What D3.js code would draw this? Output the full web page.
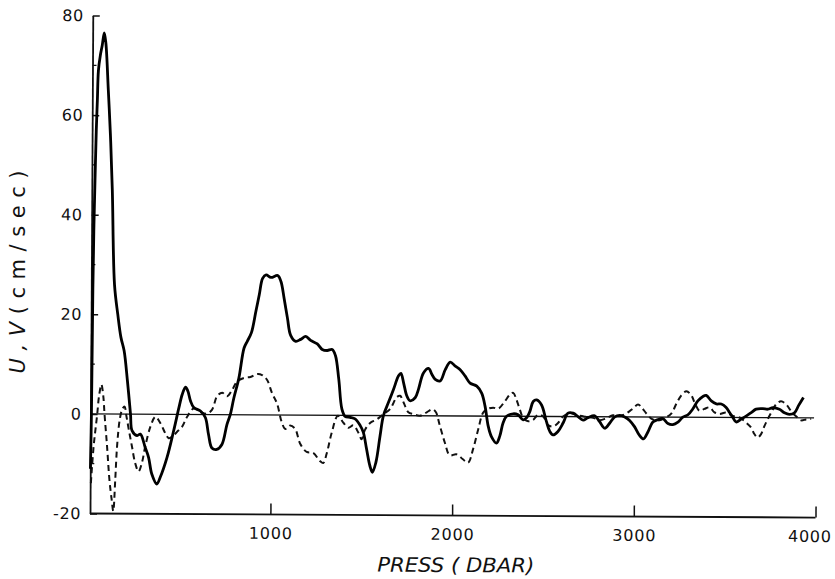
<!DOCTYPE html>
<html>
<head>
<meta charset="utf-8">
<script src="https://cdn.jsdelivr.net/npm/d3@7/dist/d3.min.js"></script>
<style>
  html, body { margin: 0; padding: 0; background: #fff; }
  svg { display: block; }
  text { font-family: "DejaVu Sans", Verdana, sans-serif; fill: #111; }
</style>
</head>
<body>
<svg id="chart" width="835" height="579"></svg>
<script>
// ---- data (pressure in dbar, velocity in cm/sec) ----
const uPress = [8,12,16,20,25,30,35,40,50,60,71,80,95,108,120,135,154,172,190,209,227,236,264,282,309,328,346,374,392,429,465,493,511,529,542,557,575,612,639,657,676,703,731,758,776,795,822,850,868,890,914,932,950,969,996,1033,1051,1069,1088,1106,1134,1161,1189,1216,1253,1280,1308,1335,1353,1372,1390,1408,1436,1463,1491,1509,1527,1546,1560,1579,1601,1619,1646,1674,1701,1714,1729,1747,1765,1793,1811,1838,1866,1885,1903,1930,1958,1985,2013,2040,2068,2095,2132,2159,2178,2196,2214,2242,2260,2278,2297,2333,2360,2388,2407,2425,2443,2462,2489,2516,2535,2553,2580,2608,2635,2663,2690,2718,2745,2782,2809,2837,2864,2892,2919,2947,2974,3002,3029,3051,3075,3102,3130,3157,3185,3212,3240,3267,3295,3322,3349,3377,3395,3423,3451,3478,3505,3524,3542,3560,3588,3615,3643,3670,3707,3734,3762,3798,3826,3853,3881,3904,3930];
const uVel = [-11,0,25,38,48,57,63,69,72,74,76.5,74.5,65,56,45,26,20,15.4,12.7,6.7,0,-3.3,-4.3,-4,-6.7,-8.7,-12,-14,-12.7,-8.7,-3.3,1.3,4,5.5,4.7,2.7,1.4,0.7,-0.6,-4,-6.7,-7,-6,-2,0,3.3,7.3,13.4,14.8,16.5,20.8,24.1,27.4,28.1,27.6,28,26.8,23.4,19.4,16,14.8,15.2,15.8,15,14.3,13.2,13,13.2,12,7.3,1.3,-0.2,-0.4,-0.7,-2,-3.4,-6.7,-10.1,-11.4,-9.4,-4.1,0,2.6,5.3,8,8.5,6.6,4,3,3.6,5.3,8.6,9.5,8.3,7.3,7,9.3,10.8,10,9.3,8,6.6,6,4.6,2,-2,-4.1,-5.4,-4,-1.3,0,0.5,0.3,-0.7,-0.3,1,3,3.3,2.3,-1,-3,-3.7,-3,-1.3,0.7,0.7,0,-0.7,-0.2,0.2,-1,-2.3,-1.3,0,0.3,0,-0.7,-2,-3.7,-4.4,-3,-1,-0.5,-0.3,-1.3,-1.5,-1,0,0.5,1.7,3.3,4.2,4.4,3.3,2.7,2.7,2,1,0,-0.9,-0.3,0.3,1,1.7,1.8,1.7,2,1.7,1,0.7,1,2.5,4.1];

const vPress = [11,25,35,44,53,66,77,84,99,113,126,135,145,154,168,181,194,205,218,236,254,273,291,309,337,364,392,419,438,456,484,511,538,575,612,648,676,703,731,758,786,813,850,886,923,950,978,1005,1033,1060,1079,1106,1134,1161,1198,1234,1271,1289,1308,1335,1368,1399,1427,1454,1482,1500,1518,1546,1582,1619,1655,1692,1710,1729,1756,1784,1820,1857,1890,1908,1930,1958,1985,2022,2058,2086,2113,2141,2168,2196,2223,2251,2287,2315,2333,2351,2370,2388,2416,2443,2470,2498,2525,2553,2580,2608,2645,2681,2727,2773,2809,2846,2882,2919,2956,2992,3020,3038,3066,3093,3130,3167,3203,3231,3258,3286,3313,3331,3359,3386,3414,3441,3469,3505,3542,3579,3615,3643,3661,3679,3698,3716,3734,3753,3780,3807,3835,3863,3890,3918,3945,3973];
const vVel = [-13.9,-6.5,-3,0,3.5,5.9,3.5,0,-6.5,-13.2,-17.2,-19.5,-13.2,-6.5,-1.1,0.9,1.5,-0.5,-3.1,-6.5,-9.8,-11.5,-9.8,-6.5,-2.5,-0.5,-1.8,-3.8,-4.8,-4.5,-3.5,-2.5,-0.5,1.2,0.5,0.2,1,3.7,4.4,3.7,5,6.7,7.4,7.6,8.2,8,7,4.4,2.3,-1.5,-2.8,-2.1,-2.8,-5.7,-7.4,-7.6,-9.2,-9.6,-7.7,-3.5,-0.1,-1.5,-2.5,-2,-3.5,-4.8,-2.9,-1.5,-0.8,0.3,1.3,3.7,4,2.7,0.7,0.3,0,0.7,1.3,0.7,-2,-5.4,-7.9,-7.7,-8.7,-9.4,-6.7,-2.7,0.7,1.5,1.7,1.5,3,4.4,4.7,3.3,1.3,-0.3,-1,-0.7,0.3,0,-1.7,-2,-1.3,0,0.7,0.3,0,-0.2,-0.7,-0.3,0.3,0.2,0.7,1.7,2.5,2,0.7,-0.3,-0.7,-0.2,0.7,2.7,4.4,5.2,4.4,3,1.3,1.7,2,1,0.7,1,0.3,0,-1,-2,-3.3,-4,-3.3,-1.7,-0.3,1,2.7,3.3,2.7,1.3,0.3,-0.5,-0.3,-0.2];

const xTickValues = [1000, 2000, 3000, 4000];
const yTickValues = [-20, 0, 20, 40, 60, 80];
const yMinorTicks = [-10, 10, 30, 50, 70];
const xTitle = "PRESS ( DBAR)";
const yTitleItalic = "U,V";
const yTitleUpright = "(cm/sec)";

// ---- drawing ----
const svg = d3.select("#chart");
svg.append("rect").attr("width", 835).attr("height", 579).attr("fill", "#fff");

const x = d3.scaleLinear().domain([0, 4000]).range([88.7, 815.5]);
const y = d3.scaleLinear().domain([-20, 80]).range([513.5, 15.5]);
const axisX0 = 90;
const fmt = d => String(d);   // plain hyphen for negatives, like the original

// whole plot slightly skewed like the scanned original
const g = svg.append("g").attr("transform", "rotate(0.32, 90, 513.5)");

// y axis (ticks pointing inward)
const yAxis = g.append("g")
  .attr("transform", `translate(${axisX0},0)`)
  .call(d3.axisLeft(y).tickValues(yTickValues).tickSizeInner(-7).tickSizeOuter(0).tickPadding(9)
        .tickFormat(fmt));
yAxis.select(".domain").attr("stroke", "#111").attr("stroke-width", 1.8);
yAxis.selectAll(".tick line").attr("stroke", "#111").attr("stroke-width", 1.5);
yAxis.selectAll(".tick text").style("font-size", "16px").attr("letter-spacing", "0.6px")
  .attr("font-family", "DejaVu Sans").attr("fill", "#111");

// minor y ticks
g.append("g").selectAll("line").data(yMinorTicks).join("line")
  .attr("x1", axisX0).attr("x2", axisX0 + 4)
  .attr("y1", d => y(d)).attr("y2", d => y(d))
  .attr("stroke", "#111").attr("stroke-width", 1.3);

// x axis (ticks pointing upward)
const xAxis = g.append("g")
  .attr("transform", `translate(0,${y(-20)})`)
  .call(d3.axisBottom(x).tickValues(xTickValues).tickSizeInner(-11).tickSizeOuter(0).tickPadding(13)
        .tickFormat(fmt));
xAxis.select(".domain").attr("d", `M${axisX0},0H${x(4000)}`).attr("stroke", "#111").attr("stroke-width", 1.8);
xAxis.selectAll(".tick line").attr("stroke", "#111").attr("stroke-width", 1.5);
xAxis.selectAll(".tick text").style("font-size", "16px").attr("letter-spacing", "0.8px")
  .attr("font-family", "DejaVu Sans").attr("fill", "#111")
  .attr("dx", d => d === 4000 ? -6 : 0);

// zero reference line
g.append("line")
  .attr("x1", axisX0).attr("x2", x(4000) - 2)
  .attr("y1", y(0)).attr("y2", y(0))
  .attr("stroke", "#111").attr("stroke-width", 1.3);

const line = d3.line()
  .x(d => x(d[0])).y(d => y(d[1]))
  .curve(d3.curveCatmullRom.alpha(0.5));

// V: dashed
g.append("path")
  .datum(d3.zip(vPress, vVel))
  .attr("d", line)
  .attr("fill", "none").attr("stroke", "#111")
  .attr("stroke-width", 2).attr("stroke-dasharray", "6,4");

// U: solid
g.append("path")
  .datum(d3.zip(uPress, uVel))
  .attr("d", line)
  .attr("fill", "none").attr("stroke", "#000")
  .attr("stroke-width", 2.8).attr("stroke-linejoin", "round");

// titles
g.append("text")
  .attr("x", 456).attr("y", 570)
  .attr("text-anchor", "middle")
  .attr("font-style", "italic")
  .attr("textLength", 157).attr("lengthAdjust", "spacingAndGlyphs")
  .style("font-size", "20px")
  .text(xTitle);

const yt = svg.append("text")
  .attr("transform", "translate(25,272) rotate(-90)")
  .attr("text-anchor", "middle")
  .attr("textLength", 203).attr("lengthAdjust", "spacing")
  .style("font-size", "21px");
yt.append("tspan").attr("font-style", "italic").text(yTitleItalic);
yt.append("tspan").text(yTitleUpright);
</script>
</body>
</html>
